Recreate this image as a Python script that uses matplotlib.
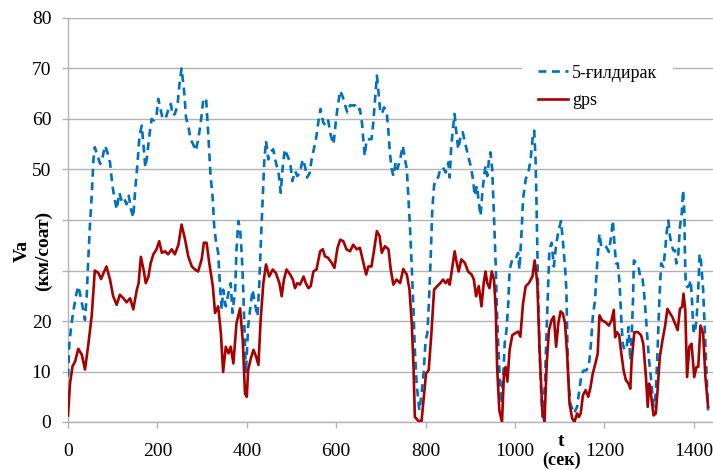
import matplotlib
matplotlib.use("Agg")
import matplotlib.pyplot as plt
from matplotlib.patches import Rectangle
from matplotlib.lines import Line2D

plt.rcParams['font.family'] = ['Liberation Serif', 'DejaVu Serif']

# ---- data ----
gps_t = [0, 4.5, 10, 16, 23, 31, 38, 45, 53, 60, 68, 74, 79, 86, 94, 101, 109, 116, 124, 131, 139, 146, 154, 158,
         163, 169, 174, 180, 185, 191, 198, 204, 210, 217, 224, 232, 239, 247, 254, 262, 269, 277, 284, 291, 299,
         304, 310, 316, 324, 329, 336, 342, 347, 353, 359, 364, 370, 377, 385, 391, 396, 400, 403, 409, 415, 421,
         426, 431, 437, 443, 450, 458, 465, 473, 478, 483, 489, 497, 503, 508, 513, 519, 527, 532, 538, 543, 549,
         556, 564, 570, 575, 582, 590, 596, 603, 609, 616, 623, 631, 638, 646, 653, 661, 667, 672, 679, 685, 691,
         697, 702, 709, 717, 722, 728, 735, 743, 750, 758, 764, 769, 773, 776, 784, 791, 796, 801, 807, 813, 819,
         826, 833, 839, 845, 850, 854, 860, 865, 869, 874, 880, 888, 895, 903, 908, 913, 919, 925, 930, 934, 938,
         943, 948, 953, 957, 960, 965, 971, 975, 979, 983, 988, 994, 1001, 1007, 1012, 1018, 1024, 1031, 1039,
         1044, 1050, 1055, 1061, 1066, 1071, 1076, 1082, 1087, 1092, 1097, 1102, 1107, 1112, 1117, 1122, 1128,
         1133, 1139, 1143, 1147, 1152, 1158, 1164, 1169, 1174, 1180, 1185, 1189, 1195, 1202, 1210, 1216, 1221,
         1224, 1228, 1233, 1238, 1243, 1248, 1254, 1258, 1261, 1267, 1275, 1282, 1287, 1293, 1297, 1300, 1304,
         1310, 1315, 1319, 1324, 1330, 1336, 1341, 1347, 1352, 1358, 1364, 1369, 1374, 1377, 1381, 1385, 1390,
         1395, 1401, 1406, 1410, 1415, 1421, 1426, 1432]
gps_v = [1.3, 7.6, 11, 12, 14.5, 13.3, 10.4, 15, 21, 30, 29.5, 28.3, 29.4, 30.8, 28.2, 24.9, 23.2, 25.2, 24.5, 23.7,
         24.5, 22.3, 26.2, 27.5, 32.7, 30.2, 27.5, 28.8, 31.5, 33.2, 34.2, 35.8, 33.5, 33.8, 33.2, 34.2, 33.2, 35.1,
         39.1, 36.1, 32.8, 30.8, 30.2, 29.8, 32.2, 35.5, 35.5, 31.5, 26.9, 21.6, 22.9, 17.6, 9.9, 14.9, 13.6, 14.9,
         11.6, 19.6, 22.5, 16, 5.6, 5, 10.3, 12.6, 14.3, 12.9, 11.3, 20.2, 27.5, 31.2, 28.8, 30.2, 29.5, 27.5, 24.9,
         28.2, 30.2, 29.2, 28.2, 26.5, 27.5, 27.2, 28.8, 27.5, 26.5, 26.9, 29.8, 30.2, 33.8, 34.2, 32.8, 32.5, 31.5,
         30.5, 34.5, 36.1, 35.8, 34.2, 33.8, 35.1, 34.2, 34.5, 31.5, 29.2, 30.8, 30.8, 34.2, 37.8, 36.8, 33.5, 34.8,
         34.2, 30.2, 27.2, 28.2, 27.5, 30.3, 29.2, 26.2, 19.6, 10.9, 1, 0.2, 0.2, 5, 9.6, 10.3, 17.6, 26.2, 26.9,
         27.5, 28.2, 27.5, 28.2, 27.2, 30.8, 33.8, 31.8, 29.8, 32.2, 31.5, 29.8, 29.2, 28.2, 24.9, 26.9, 22.9, 27.5,
         29.8, 27.5, 26.5, 29.8, 28.2, 22.2, 10.9, 2.3, 0, 9, 10.9, 8, 14.3, 17.2, 17.6, 17.9, 16.9, 23.5, 26.9,
         27.5, 28.8, 32, 27.5, 14.3, 2.3, 0, 11.6, 18.2, 20.2, 20.9, 14.9, 19.6, 21.9, 21.5, 19.5, 12.9, 3.6, 0.7,
         0, 1.7, 1, 1.7, 5.3, 6.3, 5, 6.9, 9.6, 11.6, 13.5, 21.1, 20.1, 19.8, 19.1, 20.1, 22.2, 16.8, 17.8, 17.2,
         13.5, 10.2, 8.3, 7.6, 6.6, 12.2, 17.8, 17.8, 17.2, 15.5, 8.9, 3, 7.6, 5.6, 1.3, 1.7, 6.3, 12.9, 16.2, 19.1,
         22.4, 21.5, 20.8, 19.5, 18.2, 22.4, 22.8, 25.4, 22.1, 8.9, 14.9, 15.5, 8.9, 10.9, 10.9, 19.1, 17.5, 8.9, 3]

wheel_t = [0, 3, 8, 13, 19, 23, 28, 34, 38, 42, 45, 49, 53, 57, 60, 66, 72, 78, 83, 88, 94, 99, 103, 109, 115, 120,
           125, 131, 136, 141, 146, 151, 155, 160, 165, 169, 173, 177, 182, 187, 192, 198, 202, 206, 212, 219, 224,
           230, 234, 239, 245, 249, 254, 260, 264, 269, 274, 280, 286, 292, 297, 303, 309, 314, 319, 324, 327, 331,
           336, 340, 344, 347, 353, 359, 364, 368, 374, 377, 381, 385, 389, 392, 395, 398, 403, 409, 413, 418, 424,
           428, 432, 436, 439, 443, 448, 453, 459, 465, 471, 476, 480, 485, 491, 497, 502, 508, 513, 519, 525, 530,
           535, 541, 545, 550, 556, 561, 565, 571, 577, 582, 588, 594, 599, 603, 609, 615, 620, 625, 631, 637, 642,
           647, 653, 658, 661, 664, 668, 674, 679, 683, 687, 691, 694, 698, 702, 707, 713, 717, 720, 724, 728, 733,
           737, 743, 749, 754, 758, 761, 765, 769, 773, 776, 780, 786, 791, 796, 800, 804, 807, 811, 815, 819, 822,
           828, 833, 839, 845, 851, 854, 857, 861, 865, 868, 873, 878, 883, 889, 895, 901, 906, 910, 915, 919, 923,
           927, 930, 934, 938, 942, 945, 949, 953, 957, 960, 965, 970, 973, 977, 981, 985, 988, 994, 1001, 1007,
           1010, 1015, 1018, 1024, 1030, 1035, 1040, 1043, 1046, 1048, 1050, 1052, 1055, 1059, 1062, 1067, 1070,
           1074, 1077, 1082, 1087, 1091, 1094, 1098, 1103, 1107, 1112, 1115, 1117, 1119, 1124, 1132, 1139, 1144,
           1149, 1154, 1159, 1165, 1170, 1174, 1179, 1182, 1186, 1189, 1193, 1199, 1204, 1210, 1215, 1219, 1222,
           1226, 1230, 1234, 1238, 1241, 1245, 1250, 1254, 1258, 1261, 1264, 1266, 1271, 1276, 1280, 1285, 1289,
           1293, 1296, 1300, 1304, 1310, 1315, 1319, 1323, 1327, 1332, 1336, 1339, 1343, 1347, 1350, 1354, 1358,
           1361, 1365, 1369, 1373, 1376, 1379, 1380, 1382, 1386, 1390, 1393, 1396, 1399, 1402, 1406, 1410, 1413,
           1416, 1421, 1424, 1428, 1432]
wheel_v = [9, 15.6, 19.6, 22.5, 25.5, 26.9, 24.9, 22.2, 20.2, 25.2, 31.5, 38.8, 44.8, 52, 54.4, 52.7, 51.1, 52.7,
           54.7, 53.4, 51.4, 47.1, 44.8, 42.1, 45.4, 43.8, 44.4, 43.1, 44.8, 42.1, 40.5, 46.8, 50.7, 56.7, 58.7,
           54.7, 50.4, 52.7, 56.7, 60, 59.7, 60.7, 64, 62.3, 60, 60.3, 61.7, 63, 60.7, 61, 62.7, 66.6, 70, 65.3, 60.3,
           58.7, 56, 55, 53.7, 56.4, 59.3, 64, 64, 56.7, 48.7, 44.1, 38.8, 35.8, 33.5, 26.9, 22.2, 26.2, 22.9, 25.5,
           27.5, 21.6, 26.2, 34.2, 39.8, 38.1, 32.8, 26.2, 17.6, 9.6, 18.9, 23.5, 26.2, 23.5, 20.9, 27.5, 36.8, 45.4,
           51.4, 55.7, 52, 53.4, 54, 51.4, 49.4, 45.4, 50.1, 54, 52.7, 51.4, 47.7, 49.7, 48.7, 49.4, 52, 50.7, 48.4,
           49.4, 52, 54, 56.7, 60, 62, 59.3, 58.7, 59.7, 56.7, 55, 59.3, 62.3, 65.6, 64.3, 62.7, 61.3, 62.7, 62.7,
           62.7, 61.7, 62, 59, 55.4, 52.7, 56, 56, 56, 59.3, 64, 68.6, 66, 62, 61, 62.3, 61.3, 57.4, 53.4, 50.1,
           48.7, 51.4, 50.1, 52, 54.7, 52, 50.1, 45.4, 38.8, 30.8, 22.2, 14.3, 7.6, 2.3, 5.5, 10.3, 16.2, 17.6,
           22.9, 31.5, 42.1, 46.8, 48.1, 48.4, 50.1, 50.4, 49.4, 51.4, 48.4, 54, 58, 61, 58, 54, 56.4, 57.4, 55,
           52.7, 50.7, 48.1, 44.8, 46.8, 43.4, 40.8, 45.4, 48.1, 50.7, 48.7, 52, 53.4, 50.1, 40.8, 30.8, 20.9, 10.3,
           3.6, 7.6, 15.6, 18.2, 23.5, 30.2, 32.2, 32.2, 33.5, 30.2, 38.1, 44.1, 48.1, 49.4, 52, 56.7, 57.7, 52,
           44.1, 34.2, 24.2, 14.3, 5, 1, 7.6, 16.2, 26.2, 34.2, 35.5, 30.8, 34.2, 36.1, 38.1, 39.8, 36, 30.7, 26.1,
           16.8, 8.9, 3.6, 1.7, 3, 6.3, 9.6, 10.2, 10.2, 10.9, 15.5, 20.8, 24.1, 28.7, 34, 37.3, 34.7, 35, 34.7,
           33.7, 36.6, 39.9, 36, 31.4, 31.4, 27.4, 20.1, 15.5, 14.2, 14.9, 18.8, 12.2, 16.8, 24.1, 32, 31.4, 31,
           28.7, 28.7, 25.4, 20.8, 16.8, 12.2, 8.9, 3, 5.6, 14.2, 24.1, 31.4, 30.7, 34, 37.3, 39.9, 36.6, 35.3, 34,
           34, 31.4, 32.7, 38.6, 41.3, 45.9, 41.3, 34, 27.4, 26.7, 27.1, 28.1, 24.1, 18.2, 17.5, 20.1, 26.1, 33.3,
           32, 26.1, 19.5, 10.9, 2.3]

series_names = ['5-ғилдирак', 'gps']
x_ticks = [0, 200, 400, 600, 800, 1000, 1200, 1400]
y_ticks = [0, 10, 20, 30, 40, 50, 60, 70, 80]
# the 30 and 40 labels are hidden behind the axis title in the original
y_tick_labels = ['0', '10', '20', '', '', '50', '60', '70', '80']

# ---- styling ----
BLUE = '#0070C0'
RED = '#A80000'
GRID = '#B3B3B3'
W, H = 713, 470

fig = plt.figure(figsize=(W / 100, H / 100), dpi=100)
ax = fig.add_axes([68 / W, 1 - 422 / H, (W - 68) / W, (422 - 18) / H])

ax.plot(wheel_t, wheel_v, color=BLUE, lw=1.9, dashes=[3.0, 2.1], zorder=3)
ax.plot(gps_t, gps_v, color=RED, lw=1.9, zorder=4)

ax.set_xlim(0, 1443)
ax.set_ylim(0, 80)
ax.set_xticks(x_ticks)
ax.set_yticks(y_ticks)
ax.set_yticklabels(y_tick_labels)
ax.yaxis.grid(True, color=GRID, lw=1.0)
ax.set_axisbelow(True)
for s in ['top', 'right']:
    ax.spines[s].set_visible(False)
for s in ['left', 'bottom']:
    ax.spines[s].set_color(GRID)
    ax.spines[s].set_linewidth(1.0)
ax.tick_params(axis='both', colors=GRID, labelcolor='black', labelsize=14, length=4, width=1.0)
ax.tick_params(axis='y', pad=8)
ax.tick_params(axis='x', pad=11)

# axis titles
fig.text(22.5 / W, 1 - 251 / H, 'Va', rotation=90, ha='center', va='center',
         fontsize=14, fontweight='bold')
fig.text(43 / W, 1 - 251 / H, '(км/соат)', rotation=90, ha='center', va='center',
         fontsize=14, fontweight='bold')
fig.text(561 / W, 1 - 441 / H, 't', ha='center', va='center', fontsize=14, fontweight='bold')
fig.text(562 / W, 1 - 460 / H, '(сек)', ha='center', va='center', fontsize=13, fontweight='bold')

# legend background (breaks the gridline behind it)
fig.patches.append(Rectangle((522 / W, 1 - 113 / H), (673 - 522) / W, (113 - 58) / H,
                             transform=fig.transFigure, facecolor='white', edgecolor='none', zorder=1))
handles = [Line2D([], [], color=BLUE, lw=1.9, dashes=[3.0, 2.1]),
           Line2D([], [], color=RED, lw=1.9)]
fig.legend(handles, series_names, loc='upper left', bbox_to_anchor=(534 / W, 1 - 61 / H),
           frameon=False, fontsize=13, handlelength=1.7, handletextpad=0.2,
           labelspacing=0.58, borderpad=0.2, borderaxespad=0)

fig.savefig('out.png', dpi=100)
